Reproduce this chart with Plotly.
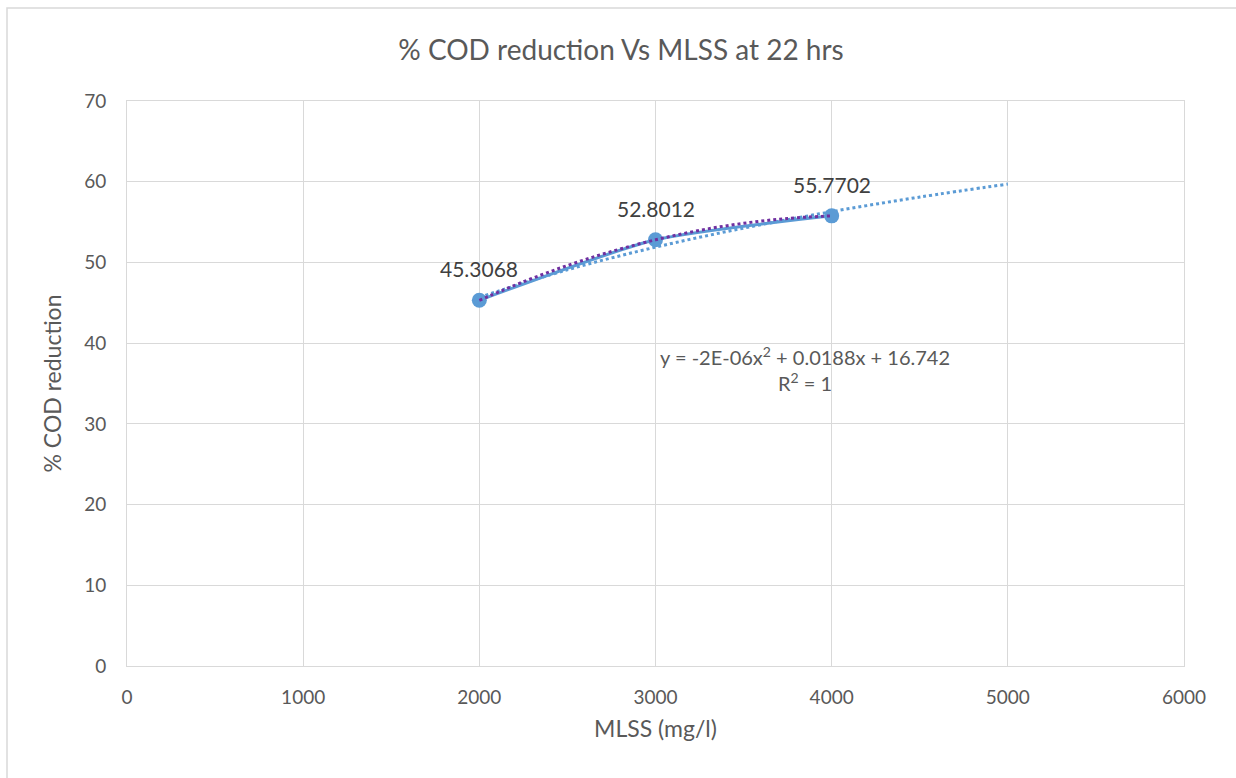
import plotly.graph_objects as go

# Data
mlss = [2000, 3000, 4000]
cod_reduction = [45.3068, 52.8012, 55.7702]
point_labels = ["45.3068", "52.8012", "55.7702"]

# Polynomial (order 2) trendline
poly_x = [2000, 2250, 2500, 2750, 3000, 3250, 3500, 3750, 4000]
poly_y = [45.31, 47.60, 49.62, 51.35, 52.80, 53.97, 54.85, 55.45, 55.77]

# Logarithmic trendline (forecast to 5000)
log_x = [2000, 2500, 3000, 3500, 4000, 4500, 5000]
log_y = [45.68, 49.09, 51.89, 54.25, 56.29, 58.10, 59.71]

x_ticks = [0, 1000, 2000, 3000, 4000, 5000, 6000]
y_ticks = [0, 10, 20, 30, 40, 50, 60, 70]

FONT = "Lato"
W, H = 1236, 778
ML, MR, MT, MB = 127, 52, 101, 112

fig = go.Figure()

fig.add_trace(go.Scatter(
    x=log_x, y=log_y, mode="lines",
    line=dict(color="#5B9BD5", width=3, dash="dot", shape="spline"),
    hoverinfo="skip", showlegend=False))

fig.add_trace(go.Scatter(
    x=mlss, y=cod_reduction, mode="lines+markers",
    line=dict(color="#5B9BD5", width=3, shape="spline", smoothing=0.6),
    marker=dict(color="#5B9BD5", size=15),
    showlegend=False))

fig.add_trace(go.Scatter(
    x=poly_x, y=poly_y, mode="lines",
    line=dict(color="#7030A0", width=3, dash="dot", shape="spline"),
    hoverinfo="skip", showlegend=False))

for xv, yv, t in zip(mlss, cod_reduction, point_labels):
    fig.add_annotation(x=xv, y=yv, text=t, showarrow=False,
                       xanchor="center", yanchor="bottom", yshift=17,
                       font=dict(family=FONT, size=21, color="#404040"))

fig.add_annotation(x=3849, y=36.8, text="y = -2E-06x<sup>2</sup> + 0.0188x + 16.742<br>R<sup>2</sup> = 1",
                   showarrow=False, xanchor="center", yanchor="middle",
                   font=dict(family=FONT, size=20, color="#595959"), align="center")

# outer chart border
fig.add_shape(type="rect", xref="paper", yref="paper",
              x0=(7 - ML) / (W - ML - MR), x1=(W + 10 - ML) / (W - ML - MR),
              y0=(H - MB - (H + 10)) / (H - MT - MB), y1=(H - MB - 8) / (H - MT - MB),
              line=dict(color="#D9D9D9", width=1.5), layer="below")

fig.update_layout(
    width=W, height=H,
    margin=dict(l=ML, r=MR, t=MT, b=MB),
    paper_bgcolor="white", plot_bgcolor="white",
    title=dict(text="% COD reduction Vs MLSS at 22 hrs", x=(394 + 848) / 2 / W, xanchor="center",
               y=1 - 50 / H, yanchor="middle",
               font=dict(family=FONT, size=28, color="#595959")),
    font=dict(family=FONT, color="#595959"),
    xaxis=dict(range=[0, 6000], tickvals=x_ticks, showgrid=True, gridcolor="#D9D9D9", gridwidth=1.3,
               zeroline=False, showline=True, linecolor="#D9D9D9", mirror=True,
               tickfont=dict(family=FONT, size=19, color="#595959"), ticks="",
               ticklabelstandoff=14,
               title=dict(text="MLSS (mg/l)", font=dict(family=FONT, size=23, color="#595959"), standoff=14)),
    yaxis=dict(range=[0, 70], tickvals=y_ticks, showgrid=True, gridcolor="#D9D9D9", gridwidth=1.3,
               zeroline=False, showline=True, linecolor="#D9D9D9", mirror=True,
               tickfont=dict(family=FONT, size=19, color="#595959"), ticks="",
               ticklabelstandoff=16,
               title=dict(text="% COD reduction", font=dict(family=FONT, size=23, color="#595959"), standoff=16)),
)

fig.write_html("out.html")
